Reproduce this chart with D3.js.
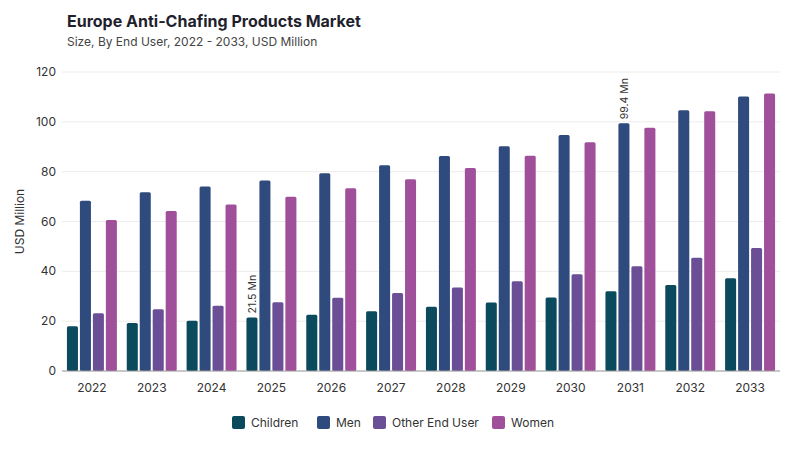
<!DOCTYPE html>
<html><head><meta charset="utf-8">
<script src="https://cdn.jsdelivr.net/npm/d3@7"></script>
<style>body{margin:0;background:#fff;font-family:Inter,"Noto Sans",sans-serif}</style>
</head><body><div id="chart"></div>
<script>
const years = ["2022","2023","2024","2025","2026","2027","2028","2029","2030","2031","2032","2033"];
const seriesNames = ["Children","Men","Other End User","Women"];
const colors = ["#0b4a5c","#2f4a7c","#6a4f97","#a0509b"];
const children = [18,19.3,20.2,21.5,22.6,24,25.8,27.5,29.5,32,34.5,37.2];
const men = [68.3,71.7,74,76.5,79.4,82.6,86.3,90.2,94.7,99.4,104.6,110.2];
const other = [23.2,24.8,26.2,27.6,29.4,31.3,33.5,36,38.8,42,45.5,49.4];
const women = [60.6,64.2,66.8,69.9,73.3,77,81.5,86.4,91.8,97.6,104.2,111.4];
const yTicks = [0,20,40,60,80,100,120];
const annotations = [{series:0, year:"2025", text:"21.5 Mn"},{series:1, year:"2031", text:"99.4 Mn"}];
const data = [children, men, other, women];

const W = 800, H = 450, m = {l:62, r:20, t:72, b:79};
const svg = d3.select("#chart").append("svg").attr("width", W).attr("height", H);

svg.append("text").attr("x",67).attr("y",27).attr("font-size",16).attr("font-weight",700).attr("fill","#1f1f2e").text("Europe Anti-Chafing Products Market");
svg.append("text").attr("x",67).attr("y",46).attr("font-size",12).attr("fill","#444").text("Size, By End User, 2022 - 2033, USD Million");

const x = d3.scaleBand().domain(years).range([m.l, W - m.r]).paddingInner(0.1).paddingOuter(0.05);
const x1 = d3.scaleBand().domain(d3.range(4)).range([0, x.bandwidth()]).padding(0.15);
const y = d3.scaleLinear().domain([0,120]).range([H - m.b, m.t]);

svg.append("g").selectAll("line").data(yTicks).enter().append("line")
  .attr("x1", m.l).attr("x2", W - m.r).attr("y1", d => y(d)).attr("y2", d => y(d))
  .attr("stroke", "#ececec");

svg.append("g").selectAll("text").data(yTicks).enter().append("text")
  .attr("x", m.l - 6).attr("y", d => y(d) + 4).attr("text-anchor","end")
  .attr("font-size",12).attr("fill","#333").text(d => d);

svg.append("text").attr("transform", `translate(24,${(m.t + H - m.b)/2}) rotate(-90)`)
  .attr("text-anchor","middle").attr("font-size",12).attr("fill","#333").text("USD Million");

data.forEach((vals, si) => {
  svg.append("g").selectAll("rect").data(vals).enter().append("rect")
    .attr("x", (d,i) => x(years[i]) + x1(si))
    .attr("width", x1.bandwidth())
    .attr("y", d => y(d)).attr("height", d => y(0) - y(d))
    .attr("rx", 1.5).attr("fill", colors[si]);
});

svg.append("line").attr("x1", m.l).attr("x2", W - m.r).attr("y1", y(0)).attr("y2", y(0)).attr("stroke","#999");

svg.append("g").selectAll("text").data(years).enter().append("text")
  .attr("x", d => x(d) + x.bandwidth()/2).attr("y", y(0) + 21).attr("text-anchor","middle")
  .attr("font-size",12).attr("fill","#333").text(d => d);

annotations.forEach(a => {
  const i = years.indexOf(a.year);
  const cx = x(a.year) + x1(a.series) + x1.bandwidth()/2 + 4;
  const cy = y(data[a.series][i]) - 4;
  svg.append("text").attr("transform", `translate(${cx},${cy}) rotate(-90)`)
    .attr("font-size",10.5).attr("fill","#333").text(a.text);
});

const legendX = [232, 317, 373, 492];
const lg = svg.append("g").selectAll("g").data(seriesNames).enter().append("g")
  .attr("transform", (d,i) => `translate(${legendX[i]},416)`);
lg.append("rect").attr("width",13).attr("height",13).attr("rx",2).attr("fill",(d,i) => colors[i]);
lg.append("text").attr("x",19).attr("y",11).attr("font-size",12).attr("fill","#333").text(d => d);
</script></body></html>
